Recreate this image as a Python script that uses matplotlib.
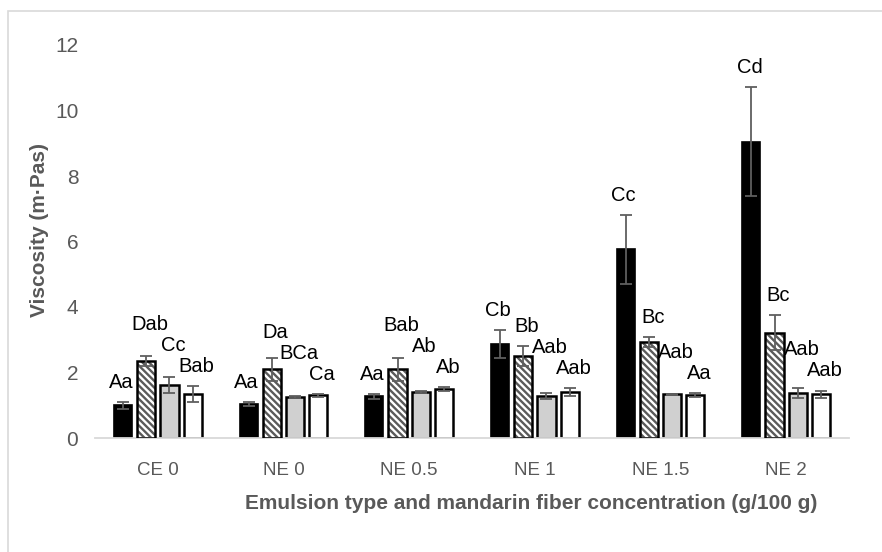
import numpy as np
import matplotlib
matplotlib.use("Agg")
import matplotlib.pyplot as plt
from matplotlib.patches import Rectangle

plt.rcParams['font.family'] = ['Liberation Sans', 'DejaVu Sans']
plt.rcParams['hatch.linewidth'] = 1.7

# data
categories = ['CE 0', 'NE 0', 'NE 0.5', 'NE 1', 'NE 1.5', 'NE 2']
black_vals = [1.00, 1.04, 1.27, 2.86, 5.76, 9.05]
black_err = [0.10, 0.05, 0.07, 0.43, 1.05, 1.67]
hatch_vals = [2.35, 2.10, 2.10, 2.51, 2.94, 3.22]
hatch_err = [0.15, 0.35, 0.35, 0.30, 0.15, 0.54]
gray_vals = [1.62, 1.24, 1.40, 1.28, 1.33, 1.38]
gray_err = [0.25, 0.03, 0.03, 0.08, 0.01, 0.15]
white_vals = [1.34, 1.30, 1.50, 1.40, 1.31, 1.33]
white_err = [0.25, 0.05, 0.05, 0.13, 0.05, 0.12]

black_lbl = ['Aa', 'Aa', 'Aa', 'Cb', 'Cc', 'Cd']
hatch_lbl = ['Dab', 'Da', 'Bab', 'Bb', 'Bc', 'Bc']
gray_lbl = ['Cc', 'BCa', 'Ab', 'Aab', 'Aab', 'Aab']
white_lbl = ['Bab', 'Ca', 'Ab', 'Aab', 'Aa', 'Aab']

W, H = 882, 552
fig = plt.figure(figsize=(W / 100, H / 100), dpi=100)
ax = fig.add_axes([95 / W, (H - 438) / H, (849 - 95) / W, (438 - 45) / H])

# light frame of the chart area (right and bottom edges fall outside the image)
fig.patches.append(Rectangle((7.5 / W, -0.05), 1.0, (H - 10.5) / H + 0.05,
                             transform=fig.transFigure, fill=False,
                             edgecolor='#d9d9d9', lw=1.2))

x = np.arange(len(categories))
pitch = 0.185
bw = 0.145
offs = [-1.5 * pitch, -0.5 * pitch, 0.5 * pitch, 1.5 * pitch]
err_kw = dict(ecolor='#5f5f5f', elinewidth=1.3, capsize=4.5, capthick=1.3)

ax.bar(x + offs[0], black_vals, bw, color='black', edgecolor='black', lw=1.2,
       yerr=black_err, error_kw=err_kw, zorder=2)
ax.bar(x + offs[1], hatch_vals, bw, color='white', edgecolor='#5a5a5a', lw=0,
       hatch='\\\\\\\\\\', zorder=2)
ax.bar(x + offs[1], hatch_vals, bw, fill=False, edgecolor='black', lw=1.8,
       yerr=hatch_err, error_kw=err_kw, zorder=3)
ax.bar(x + offs[2], gray_vals, bw, color='#d0d0d0', edgecolor='black', lw=1.8,
       yerr=gray_err, error_kw=err_kw, zorder=2)
ax.bar(x + offs[3], white_vals, bw, color='white', edgecolor='black', lw=1.8,
       yerr=white_err, error_kw=err_kw, zorder=2)

# letter labels: above the error bar, stepped so neighbours do not collide
pad = 0.6
step = 0.64
for i in range(len(categories)):
    yw = white_vals[i] + white_err[i] + pad
    yg = max(gray_vals[i] + gray_err[i] + pad, yw + step)
    yh = max(hatch_vals[i] + hatch_err[i] + pad, yg + step)
    yb = black_vals[i] + black_err[i] + pad
    for k, (lbl, yy) in enumerate([(black_lbl[i], yb), (hatch_lbl[i], yh),
                                    (gray_lbl[i], yg), (white_lbl[i], yw)]):
        dx = -0.015 if k == 0 else 0.03
        ax.text(x[i] + offs[k] + dx, yy, lbl, ha='center', va='center',
                fontsize=14.5, color='black')

ax.set_xlim(-0.5, len(categories) - 0.5)
ax.set_ylim(0, 12)
ax.set_yticks(range(0, 13, 2))
ax.set_xticks(x)
ax.set_xticklabels(categories)
ax.tick_params(axis='both', length=0, labelcolor='#595959')
ax.tick_params(axis='y', labelsize=15, pad=12)
ax.tick_params(axis='x', labelsize=13.5, pad=17)
for s in ['top', 'right', 'left']:
    ax.spines[s].set_visible(False)
ax.spines['bottom'].set_color('#d9d9d9')
ax.spines['bottom'].set_linewidth(1.3)

ax.set_ylabel('Viscosity (m·Pas)', fontsize=15, fontweight='bold', color='#595959')
ax.set_xlabel('Emulsion type and mandarin fiber concentration (g/100 g)', fontsize=15,
              fontweight='bold', color='#595959')
ax.xaxis.set_label_coords(0.578, -0.166)
ax.xaxis.label.set_va('center')
ax.yaxis.set_label_coords(-0.074, 0.53)
ax.yaxis.label.set_va('center')

fig.savefig('out.png', dpi=100)
